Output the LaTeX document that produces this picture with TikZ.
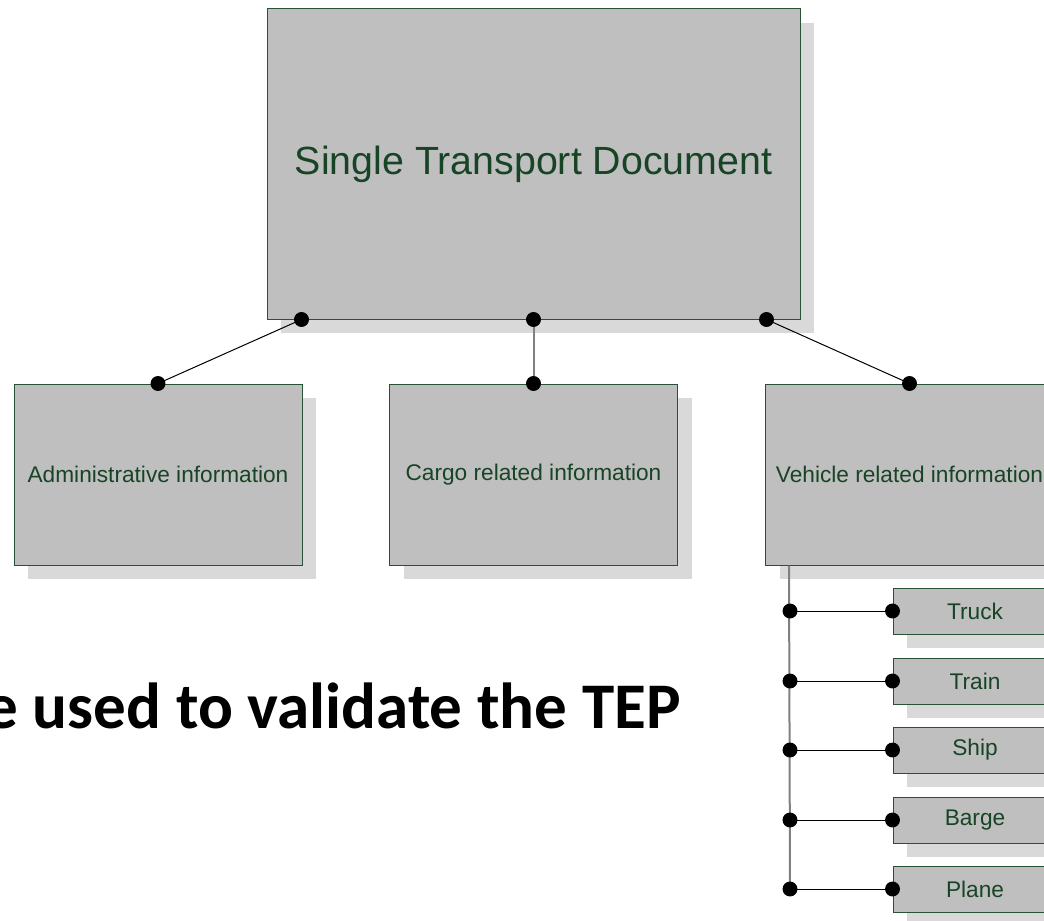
\documentclass[tikz,border=0pt]{standalone}
\usepackage{fontspec}
\setmainfont{Liberation Sans}
\newfontfamily\tepfont{Carlito}
\usetikzlibrary{shadows,calc}
\definecolor{boxgray}{RGB}{191,191,191}
\definecolor{shadowgray}{RGB}{217,217,217}
\definecolor{boxline}{RGB}{40,82,52}
\definecolor{boxtext}{RGB}{24,68,38}
\tikzset{
  infobox/.style={draw=boxline,fill=boxgray,text=boxtext,line width=0.75pt,inner sep=0pt,
    drop shadow={shadow xshift=10.5pt,shadow yshift=-10.5pt,fill=shadowgray,opacity=1}},
  link/.style={black,line width=0.75pt},
  graylink/.style={gray,line width=1.5pt},
}
\begin{document}
\begin{tikzpicture}[x=0.75pt,y=-0.75pt]
  \useasboundingbox (0,0) rectangle (1044,920);
  \node[infobox,minimum width=399.75pt,minimum height=232.5pt,font=\fontsize{29.5}{32}\selectfont] (std) at (533.5,164) {Single Transport Document};
  \node[infobox,minimum width=216pt,minimum height=135.75pt,font=\fontsize{17}{19}\selectfont] (admin) at (158,474.5) {Administrative information};
  \node[infobox,minimum width=216pt,minimum height=135.75pt,font=\fontsize{17}{19}\selectfont] (cargo) at (533.5,474.5) {Cargo related information};
  \node[infobox,minimum width=216pt,minimum height=135.75pt,font=\fontsize{17}{19}\selectfont] (vehicle) at (909.5,474.5) {Vehicle related information};
  \coordinate (std1) at ($(std.south west)+(35,0)$);
  \coordinate (std3) at ($(std.south east)+(-34,0)$);
  \coordinate (spine) at ($(vehicle.south west)+(24,0)$);
  \draw[link] (std1) -- (admin.north);
  \draw[graylink] (std.south) -- (cargo.north);
  \draw[link] (std3) -- (vehicle.north);
  \foreach \p in {std1,std.south,std3,admin.north,cargo.north,vehicle.north}
    \fill (\p) circle (5.6pt);
  \foreach \mode/\y in {Truck/611,Train/681,Ship/750,Barge/820,Plane/889} {
    \node[infobox,minimum width=123pt,minimum height=34.5pt,font=\fontsize{17}{19}\selectfont] (\mode) at (975,\y) {\mode};
    \coordinate (s\mode) at (790,\y);
    \draw[link] (s\mode) -- (\mode.west);
  }
  \draw[graylink] (spine) -- (sPlane);
  \foreach \mode in {Truck,Train,Ship,Barge,Plane} {
    \fill (s\mode) circle (5.6pt);
    \fill (\mode.west) circle (5.6pt);
  }
  \node[anchor=base east,inner sep=0pt,font=\tepfont\bfseries\fontsize{48.8}{50}\selectfont] (tep) at (681,728) {e used to validate the TEP};
\end{tikzpicture}
\end{document}
